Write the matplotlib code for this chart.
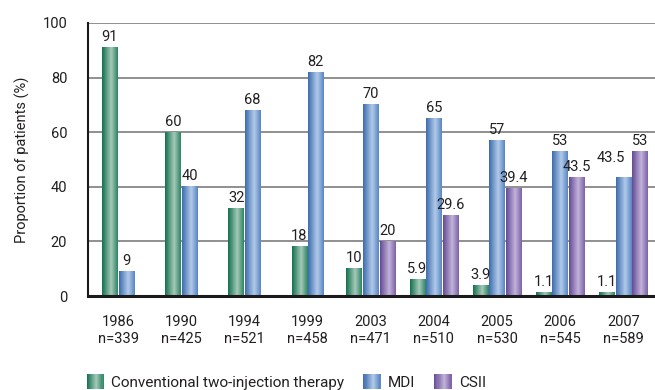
import numpy as np
import matplotlib
matplotlib.use("Agg")
import matplotlib.pyplot as plt
from matplotlib.colors import LinearSegmentedColormap
from matplotlib.patches import Rectangle
from matplotlib.legend_handler import HandlerBase

plt.rcParams['font.family'] = ['Roboto', 'DejaVu Sans']

# Survey data: share of patients per insulin regimen
years = ["1986", "1990", "1994", "1999", "2003", "2004", "2005", "2006", "2007"]
n_patients = [339, 425, 521, 458, 471, 510, 530, 545, 589]
conventional = [91, 60, 32, 18, 10, 5.9, 3.9, 1.1, 1.1]
mdi = [9, 40, 68, 82, 70, 65, 57, 53, 43.5]
csii = [None, None, None, None, 20, 29.6, 39.4, 43.5, 53]

series_names = ["Conventional two-injection therapy", "MDI", "CSII"]
series_values = [conventional, mdi, csii]

# Cylinder-like shading: dark left edge, light highlight, darker right edge
shades = [
    ["#12704f", "#a6c9b8", "#2c8464"],
    ["#3c6cae", "#b2cae9", "#5886c3"],
    ["#654a95", "#c2b3da", "#7b62a6"],
]
cmaps = [LinearSegmentedColormap.from_list(f"s{i}", list(zip([0, 0.58, 1], c)))
         for i, c in enumerate(shades)]
grad = np.linspace(0, 1, 64).reshape(1, -1)

text_color = "#231f20"
fs = 10.5

fig = plt.figure(figsize=(6.55, 3.9), dpi=100)
ax = fig.add_axes([88 / 655, 1 - 296 / 390, 1 - 88 / 655, (296 - 23) / 390])

step = 0.262
width = 0.245
x = np.arange(len(years))

for g in range(len(years)):
    present = [s for s in range(3) if series_values[s][g] is not None]
    k = len(present)
    for j, s in enumerate(present):
        val = series_values[s][g]
        pos = x[g] + (j - (k - 1) / 2) * step
        bar = ax.bar(pos, val, width=width, color=shades[s][1], linewidth=0, zorder=2)[0]
        bx, by, bw, bh = bar.get_x(), bar.get_y(), bar.get_width(), bar.get_height()
        ax.imshow(grad, cmap=cmaps[s], extent=[bx, bx + bw, by, by + bh],
                  aspect="auto", zorder=3, interpolation="bilinear")
        bar.set_visible(False)
        label = f"{val:g}"
        if g == len(years) - 1 and s == 1:
            ax.text(pos - 0.2, 48, label, ha="center", va="bottom",
                    fontsize=fs, color=text_color, zorder=4)
        else:
            ax.text(pos, val + 1.3, label, ha="center", va="bottom",
                    fontsize=fs, color=text_color, zorder=4)

ax.set_xlim(-0.475, 8.5)
ax.set_ylim(0, 100)
ax.set_yticks([0, 20, 40, 60, 80, 100])
ax.set_xticks(x)
ax.set_xticklabels([f"{y}\nn={n}" for y, n in zip(years, n_patients)],
                   fontsize=fs, color=text_color, linespacing=1.25)
ax.tick_params(axis="both", length=0, labelsize=fs, labelcolor=text_color)
ax.tick_params(axis="x", pad=14)
ax.tick_params(axis="y", pad=15)
ax.yaxis.grid(True, color="#7d7d7d", linewidth=1.2, zorder=1)
ax.set_axisbelow(True)
for side in ("top", "right"):
    ax.spines[side].set_visible(False)
ax.spines["left"].set_color("#1a1a1a")
ax.spines["left"].set_linewidth(1.5)
ax.spines["bottom"].set_color("#1a1a1a")
ax.spines["bottom"].set_linewidth(2.2)
ax.spines["left"].set_zorder(5)
ax.spines["bottom"].set_zorder(5)
ax.set_ylabel("Proportion of patients (%)", fontsize=fs, color=text_color, labelpad=9)


class GradientHandler(HandlerBase):
    def __init__(self, cmap):
        super().__init__()
        self.cmap = cmap

    def create_artists(self, legend, orig_handle, xdescent, ydescent,
                       width, height, fontsize, trans):
        n = 16
        arts = []
        for i in range(n):
            r = Rectangle((-xdescent + width * i / n, -ydescent), width / n + 0.3, height,
                          facecolor=self.cmap((i + 0.5) / n), edgecolor="none",
                          transform=trans)
            arts.append(r)
        return arts


handles = [Rectangle((0, 0), 1, 1) for _ in range(3)]
fig.legend(handles, series_names,
           handler_map={h: GradientHandler(cm) for h, cm in zip(handles, cmaps)},
           loc="lower left", bbox_to_anchor=(73 / 655, -0.035), ncol=3,
           frameon=False, fontsize=11, handlelength=1.1, handleheight=1.1,
           handletextpad=0.5, columnspacing=1.25, labelcolor=text_color)

fig.savefig("out.png", dpi=100)
